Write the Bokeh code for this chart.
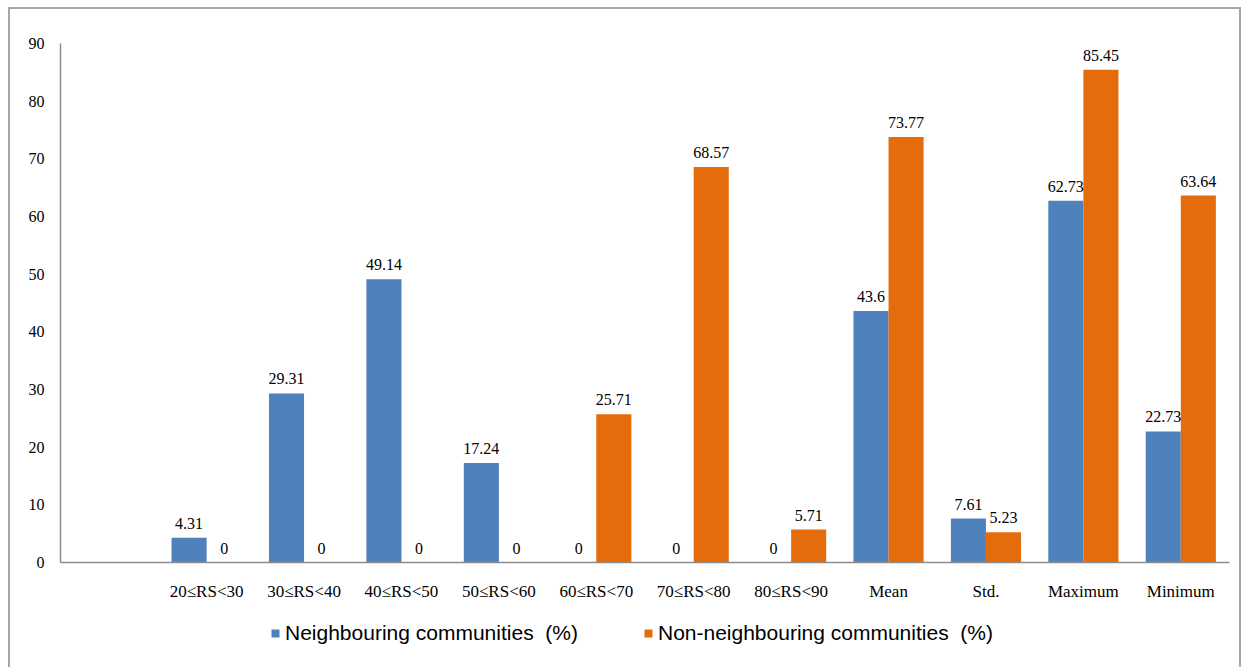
from bokeh.plotting import figure
from bokeh.models import ColumnDataSource, FactorRange, Legend, LegendItem, FixedTicker
from bokeh.layouts import column
from bokeh.transform import dodge
from bokeh.core.properties import value
from bokeh.embed import file_html
from bokeh.resources import INLINE

categories = [" ", "20≤RS<30", "30≤RS<40", "40≤RS<50", "50≤RS<60", "60≤RS<70",
              "70≤RS<80", "80≤RS<90", "Mean", "Std.", "Maximum", "Minimum"]
neighbouring = [None, 4.31, 29.31, 49.14, 17.24, 0, 0, 0, 43.6, 7.61, 62.73, 22.73]
non_neighbouring = [None, 0, 0, 0, 0, 25.71, 68.57, 5.71, 73.77, 5.23, 85.45, 63.64]
neigh_labels = ["", "4.31", "29.31", "49.14", "17.24", "0", "0", "0", "43.6", "7.61", "62.73", "22.73"]
non_labels = ["", "0", "0", "0", "0", "25.71", "68.57", "5.71", "73.77", "5.23", "85.45", "63.64"]
y_ticks = [0, 10, 20, 30, 40, 50, 60, 70, 80, 90]
series_names = ["Neighbouring communities  (%)", "Non-neighbouring communities  (%)"]

BLUE = "#4F81BD"
ORANGE = "#E46C0A"
SERIF = "Liberation Serif"
BORDER = "2px solid #a6a6a6"

src = ColumnDataSource(dict(
    cat=categories,
    n=[v if v is not None else float("nan") for v in neighbouring],
    o=[v if v is not None else float("nan") for v in non_neighbouring],
    nl=neigh_labels,
    ol=non_labels,
))

p = figure(x_range=FactorRange(*categories), y_range=(0, 90),
           width=1233, height=594, output_backend="svg", toolbar_location=None,
           min_border_left=50, min_border_right=14, min_border_top=34, min_border_bottom=38)
p.margin = (7, 0, 0, 8)
p.styles = {"border-top": BORDER, "border-left": BORDER, "border-right": BORDER,
            "box-sizing": "border-box"}

bw = 0.36
p.vbar(x=dodge("cat", -bw / 2, range=p.x_range), top="n", width=bw, source=src,
       fill_color=BLUE, line_color=None)
p.vbar(x=dodge("cat", bw / 2, range=p.x_range), top="o", width=bw, source=src,
       fill_color=ORANGE, line_color=None)

p.text(x=dodge("cat", -bw / 2, range=p.x_range), y="n", text="nl", source=src,
       text_align="center", text_baseline="bottom", y_offset=-9,
       text_font=value(SERIF), text_font_size="16px", text_color="#000000")
p.text(x=dodge("cat", bw / 2, range=p.x_range), y="o", text="ol", source=src,
       text_align="center", text_baseline="bottom", y_offset=-9,
       text_font=value(SERIF), text_font_size="16px", text_color="#000000")

p.xgrid.visible = False
p.ygrid.visible = False
p.outline_line_color = None
p.background_fill_color = "white"
p.border_fill_color = "white"

p.yaxis.ticker = FixedTicker(ticks=y_ticks)
for ax in (p.xaxis, p.yaxis):
    ax.axis_line_color = "#8c8c8c"
    ax.axis_line_width = 1.5
    ax.major_tick_line_color = None
    ax.minor_tick_line_color = None
    ax.major_label_text_font = SERIF
    ax.major_label_text_color = "#000000"
p.yaxis.major_label_text_font_size = "16px"
p.xaxis.major_label_text_font_size = "17px"
p.yaxis.major_label_standoff = 10
p.xaxis.major_label_standoff = 13
p.x_range.range_padding = 0
p.x_range.factor_padding = 0

# legend strip below the chart
lg = figure(width=1233, height=66, output_backend="svg", toolbar_location=None,
            x_axis_type=None, y_axis_type=None, x_range=(0, 1), y_range=(0, 1),
            min_border_left=0, min_border_right=0, min_border_top=0, min_border_bottom=0)
lg.margin = (0, 0, 0, 8)
lg.styles = {"border-left": BORDER, "border-right": BORDER, "box-sizing": "border-box"}
lg.outline_line_color = None
lg.xgrid.visible = False
lg.ygrid.visible = False
hidden = ColumnDataSource(dict(x=[-5.0], top=[-5.0]))
l1 = lg.vbar(x="x", top="top", bottom=-6, width=0.1, source=hidden, fill_color=BLUE, line_color=None)
l2 = lg.vbar(x="x", top="top", bottom=-6, width=0.1, source=hidden, fill_color=ORANGE, line_color=None)
legend = Legend(items=[LegendItem(label=series_names[0], renderers=[l1]),
                       LegendItem(label=series_names[1], renderers=[l2])],
                orientation="horizontal", location=(210, 22),
                label_text_font="Liberation Sans", label_text_font_size="21px",
                label_text_color="#000000", glyph_width=10, glyph_height=10,
                spacing=65, label_standoff=5, border_line_color=None,
                background_fill_alpha=0, margin=0, padding=0)
lg.add_layout(legend, "center")

layout = column(p, lg, spacing=0)
open("out.html", "w").write(file_html(layout, INLINE))
